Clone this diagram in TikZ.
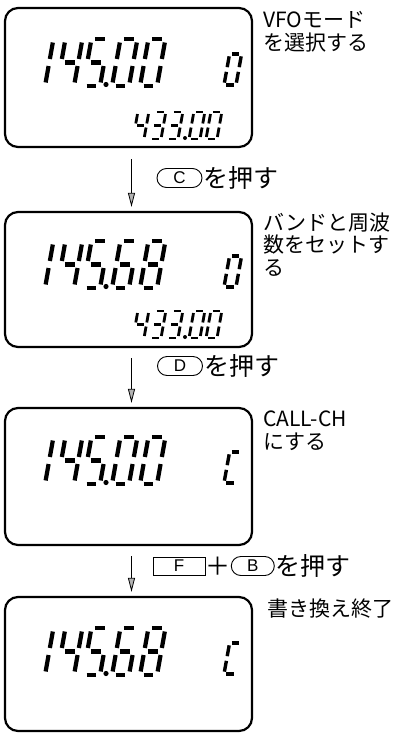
\documentclass[tikz,border=0pt]{standalone}
\usepackage{fontspec}
\usetikzlibrary{arrows.meta,positioning,shapes.misc}
\newfontfamily\jpfont{Noto Sans CJK JP}
\newfontfamily\keyfont{Liberation Sans}

% segment lists of the LCD characters
\newcommand\segzero{a,b,c,d,e,f}
\newcommand\segone{b,c}
\newcommand\segthree{a,b,g,c,d}
\newcommand\segfour{f,g,b,c}
\newcommand\segfive{a,f,g,c,d}
\newcommand\segsix{a,f,g,e,c,d}
\newcommand\segeight{a,b,c,d,e,f,g}
\newcommand\segC{a,f,e,d}

% \lcd[opts]{x}{y bottom}{width}{height}{char}
\newcommand{\lcd}[6][]{%
  \begin{scope}[shift={(#2,#3)}, xslant=0.18, yscale=-1]
    \pgfmathsetmacro\gp{0.075*#5}
    \coordinate (a1) at (\gp,#5);        \coordinate (a2) at (#4-\gp,#5);
    \coordinate (b1) at (#4,#5-\gp);     \coordinate (b2) at (#4,#5/2+\gp);
    \coordinate (c1) at (#4,#5/2-\gp);   \coordinate (c2) at (#4,\gp);
    \coordinate (d1) at (\gp,0);         \coordinate (d2) at (#4-\gp,0);
    \coordinate (e1) at (0,\gp);         \coordinate (e2) at (0,#5/2-\gp);
    \coordinate (f1) at (0,#5/2+\gp);    \coordinate (f2) at (0,#5-\gp);
    \coordinate (g1) at (\gp,#5/2);      \coordinate (g2) at (#4-\gp,#5/2);
    \edef\seglist{\csname seg#6\endcsname}
    \foreach \sg in \seglist {\draw[lcdseg,#1] (\sg1) -- (\sg2);}
  \end{scope}}

\tikzset{
  lcdbox/.style={draw, line width=2.2pt, rounded corners=13pt, minimum width=247pt, inner sep=0pt},
  lcdseg/.style={line width=4.2pt},
  note/.style={anchor=base west, align=left, inner sep=0pt, font=\jpfont\fontsize{21}{22.5}\selectfont},
  keypill/.style={draw, rounded rectangle, line width=0.9pt, minimum width=45pt, minimum height=19pt,
    inner sep=0pt, font=\keyfont\fontsize{17}{17}\selectfont},
  keyrect/.style={draw, rectangle, line width=0.9pt, minimum width=52pt, minimum height=18pt,
    inner sep=0pt, font=\keyfont\fontsize{17}{17}\selectfont},
  press/.style={anchor=west, inner sep=0pt, font=\jpfont\fontsize{25}{25}\selectfont},
  steparrow/.style={line width=1.2pt, -{Triangle[length=14pt,width=7pt,fill=gray!60,line width=0.8pt]}}
}

\begin{document}
\begin{tikzpicture}[x=1pt, y=-1pt]
    \useasboundingbox (0,0) rectangle (392,734);
    % displays
    \node[lcdbox, minimum height=139pt] (disp1) at (128.5,77.5) {};
    \node[lcdbox, minimum height=135pt] (disp2) at (128.5,279.5) {};
    \node[lcdbox, minimum height=137pt] (disp3) at (128.5,476.5) {};
    \node[lcdbox, minimum height=134pt] (disp4) at (128.5,664) {};
    % main frequency and channel
    \foreach \yb/\dd/\de/\ch in {86/zero/zero/zero, 288/six/eight/zero, 484/zero/zero/C, 675/six/eight/C} {
        \lcd{28}{\yb}{17}{47}{one}
        \lcd{57}{\yb}{17}{47}{four}
        \lcd{83}{\yb}{17}{47}{five}
        \fill (106,\yb-1.5) circle (2.6pt);
        \lcd{112}{\yb}{17}{47}{\dd}
        \lcd{140}{\yb}{17}{47}{\de}
        \lcd[line width=3.4pt]{224}{\yb-1}{12}{31}{\ch}
    }
    % sub frequency
    \foreach \yb in {139,338} {
        \lcd[line width=2.8pt]{133}{\yb}{11}{27}{four}
        \lcd[line width=2.8pt]{150}{\yb}{11}{27}{three}
        \lcd[line width=2.8pt]{167}{\yb}{11}{27}{three}
        \fill (185,\yb-1) circle (2pt);
        \lcd[line width=2.8pt]{189}{\yb}{11}{27}{zero}
        \lcd[line width=2.8pt]{206}{\yb}{11}{27}{zero}
    }
    % notes (base = last line)
    \node[note] (note1) at (263,50) {VFOモード\\を選択する};
    \node[note] (note2) at (263,275) {バンドと周波\\数をセットす\\る};
    \node[note] (note3) at (263,449) {CALL-CH\\にする};
    \node[note] (note4) at (267,616) {書き換え終了};
    % steps
    \draw[steparrow] ([xshift=3pt,yshift=-11pt]disp1.south) -- ([xshift=3pt,yshift=4pt]disp2.north);
    \draw[steparrow] ([xshift=3pt,yshift=-10pt]disp2.south) -- ([xshift=3pt,yshift=4pt]disp3.north);
    \draw[steparrow] ([xshift=3pt,yshift=-10pt]disp3.south) -- ([xshift=3pt,yshift=4pt]disp4.north);
    \node[keypill] (keyC) at (179.5,178) {C};
    \node[press, right=1pt of keyC] (pressC) {を押す};
    \node[keypill] (keyD) at (180,366) {D};
    \node[press, right=1pt of keyD] (pressD) {を押す};
    \node[keyrect] (keyF) at (179,566) {F};
    \node[press, right=0pt of keyF] (plus) {＋};
    \node[keypill, minimum width=43pt, right=0pt of plus] (keyB) {B};
    \node[press, right=1pt of keyB] (pressB) {を押す};
\end{tikzpicture}
\end{document}
